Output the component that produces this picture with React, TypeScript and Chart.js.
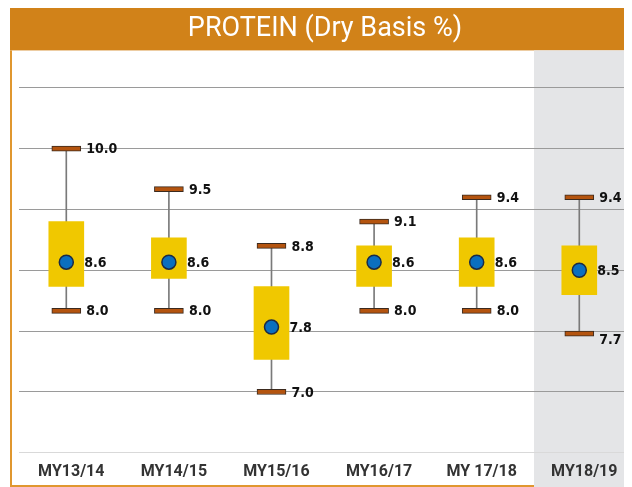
import React, { useEffect, useRef } from 'react';
import { Chart, registerables } from 'chart.js';

Chart.register(...registerables);

const chartTitle = 'PROTEIN (Dry Basis %)';
const categories = ['MY13/14', 'MY14/15', 'MY15/16', 'MY16/17', 'MY 17/18', 'MY18/19'];
const maxValues = [10.0, 9.5, 8.8, 9.1, 9.4, 9.4];
const minValues = [8.0, 8.0, 7.0, 8.0, 8.0, 7.72];
const upperBox = [9.1, 8.9, 8.3, 8.8, 8.9, 8.8];
const lowerBox = [8.3, 8.4, 7.4, 8.3, 8.3, 8.2];
const meanValues = [8.6, 8.6, 7.8, 8.6, 8.6, 8.5];
const gridTicks = [6.25, 7, 7.75, 8.5, 9.25, 10, 10.75];

const CAP = 0.031;

const backgroundPlugin = {
  id: 'bgPanels',
  beforeDraw(chart: any) {
    const { ctx, width, height, chartArea, scales } = chart;
    const top = chartArea.top;
    ctx.save();
    ctx.fillStyle = '#D18219';
    ctx.fillRect(2, 0, width - 2, top);
    const bandLeft = Math.round(scales.x.getPixelForValue(4.56));
    ctx.fillStyle = '#E4E5E7';
    ctx.fillRect(bandLeft, top, width - bandLeft, height - top);
    ctx.fillStyle = '#E0972F';
    ctx.fillRect(2, top, 2, height - top);
    ctx.fillRect(2, height - 3, bandLeft - 2, 2);
    ctx.restore();
  },
};

const labelPlugin = {
  id: 'valueLabels',
  afterDatasetsDraw(chart: any) {
    const ctx = chart.ctx;
    const y = chart.scales.y;
    const boxMeta = chart.getDatasetMeta(1);
    ctx.save();
    ctx.font = 'bold 14px "DejaVu Sans Condensed", "DejaVu Sans"';
    ctx.fillStyle = '#111111';
    ctx.textBaseline = 'middle';
    ctx.textAlign = 'left';
    categories.forEach((_, i) => {
      const cx = boxMeta.data[i].x;
      ctx.fillText(maxValues[i].toFixed(1), cx + 20, y.getPixelForValue(maxValues[i]) + 1);
      const below = i === categories.length - 1 ? 6 : 0;
      ctx.fillText(minValues[i].toFixed(1), cx + 20, y.getPixelForValue(minValues[i]) + 1 + below);
      ctx.fillText(meanValues[i].toFixed(1), cx + 18, y.getPixelForValue(meanValues[i]) + 1);
    });
    ctx.restore();
  },
};

export default function App() {
  const ref = useRef<HTMLCanvasElement | null>(null);

  useEffect(() => {
    if (!ref.current) return;
    const capStyle = {
      type: 'bar' as const,
      backgroundColor: '#B4540F',
      borderColor: '#3B2A1E',
      borderWidth: 1,
      borderSkipped: false as const,
      barThickness: 29,
      grouped: false,
      order: 2,
    };
    const chart = new Chart(ref.current, {
      type: 'bar',
      data: {
        datasets: [
          {
            type: 'line',
            data: meanValues.map((v, i) => ({ x: i, y: v })),
            showLine: false,
            pointRadius: 7,
            pointBackgroundColor: '#0B6FBF',
            pointBorderColor: '#1B2B45',
            pointBorderWidth: 1.5,
            order: 0,
          } as any,
          {
            type: 'bar',
            data: upperBox.map((v, i) => ({ x: i, y: [lowerBox[i], v] })),
            backgroundColor: '#F0C800',
            borderWidth: 0,
            barThickness: 35,
            grouped: false,
            order: 1,
          } as any,
          {
            ...capStyle,
            data: maxValues.map((v, i) => ({ x: i, y: [v - CAP, v + CAP] })),
          } as any,
          {
            ...capStyle,
            data: minValues.map((v, i) => ({ x: i, y: [v - CAP, v + CAP] })),
          } as any,
          {
            type: 'bar',
            data: minValues.map((v, i) => ({ x: i, y: [v, maxValues[i]] })),
            backgroundColor: '#7A7A7A',
            borderWidth: 0,
            barThickness: 1,
            grouped: false,
            order: 5,
          } as any,
        ],
      },
      options: {
        animation: false,
        responsive: false,
        layout: { autoPadding: false, padding: { left: 11, right: 1, top: 0, bottom: -4 } },
        plugins: {
          legend: { display: false },
          tooltip: { enabled: false },
          title: {
            display: true,
            text: chartTitle,
            color: '#FFFFFF',
            font: { family: 'Roboto', size: 27, weight: 'normal', lineHeight: 1.2 },
            padding: { top: 5, bottom: 5 },
          },
        },
        scales: {
          x: {
            type: 'linear',
            min: -0.461,
            max: 5.504,
            offset: false,
            grid: { display: false, drawTicks: false },
            border: { display: false },
            afterBuildTicks: (scale: any) => {
              scale.ticks = categories.map((_, i) => ({ value: i }));
            },
            ticks: {
              autoSkip: false,
              maxRotation: 0,
              padding: 10,
              labelOffset: 5,
              color: '#333333',
              font: { family: 'Roboto', size: 16, weight: 'bold' },
              callback: (v: any) => categories[Math.round(Number(v))] ?? '',
            },
          },
          y: {
            type: 'linear',
            min: 6.25,
            max: 11.21,
            afterBuildTicks: (scale: any) => {
              scale.ticks = gridTicks.map((v) => ({ value: v }));
            },
            ticks: { display: false },
            border: { display: false },
            grid: {
              drawTicks: false,
              lineWidth: 1,
              color: (c: any) => (c.tick && c.tick.value === 6.25 ? '#D9D9D9' : '#9A9A9A'),
            },
          },
        },
      } as any,
      plugins: [backgroundPlugin, labelPlugin],
    });
    return () => chart.destroy();
  }, []);

  return (
    <div style={{ width: 624, height: 480 }}>
      <canvas ref={ref} width={624} height={480} />
    </div>
  );
}
